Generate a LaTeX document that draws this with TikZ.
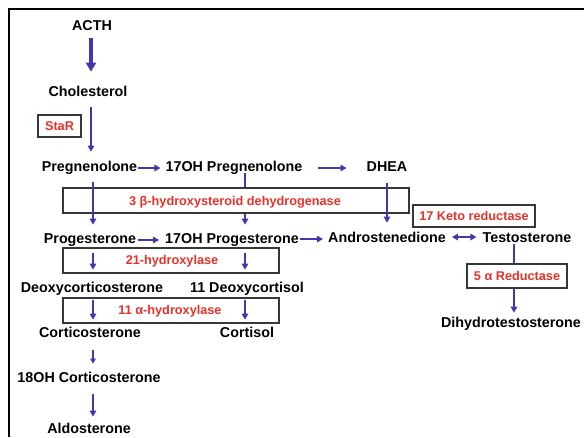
\documentclass[tikz,border=0pt]{standalone}
\usepackage{fontspec}
\setmainfont{Liberation Sans}
\usetikzlibrary{arrows.meta,calc}
\definecolor{arrblue}{RGB}{72,52,172}
\definecolor{enzred}{RGB}{232,50,40}
\definecolor{boxgray}{RGB}{55,55,55}
\tikzset{
  lbl/.style={font=\bfseries\fontsize{14.3}{16}\selectfont, inner sep=0pt, text height=10.3pt, text depth=0pt},
  enz/.style={font=\bfseries\fontsize{12.7}{14}\selectfont, text=enzred, inner sep=0pt},
  enzbox/.style={draw=boxgray, line width=1.1pt, inner sep=0pt},
  arr/.style={draw=arrblue, line width=1.9pt, -{Triangle[length=6pt,width=6.5pt]}},
  bigarr/.style={draw=arrblue, line width=3.4pt, -{Triangle[length=9pt,width=10pt]}},
  darr/.style={draw=arrblue, line width=1.9pt, {Triangle[length=6pt,width=6.5pt]}-{Triangle[length=6pt,width=6.5pt]}},
}
\begin{document}
\begin{tikzpicture}[x=1pt,y=-1pt]
\useasboundingbox (0,0) rectangle (584,437);
\fill[white] (0,0) rectangle (584,437);
% frame
\draw[line width=1.6pt] (9,437) -- (9,9) -- (584,9);

% labels
\node[lbl] (acth) at (92,25) {ACTH};
\node[lbl] (chol) at (88,91) {Cholesterol};
\node[lbl] (preg) at (89.5,166) {Pregnenolone};
\node[lbl] (ohpreg) at (234,166) {17OH Pregnenolone};
\node[lbl] (dhea) at (387,166) {DHEA};
\node[lbl] (prog) at (90,238) {Progesterone};
\node[lbl] (ohprog) at (232,238) {17OH Progesterone};
\node[lbl] (andro) at (387,237) {Androstenedione};
\node[lbl] (testo) at (527,237) {Testosterone};
\node[lbl] (doc) at (92,287) {Deoxycorticosterone};
\node[lbl] (odc) at (247,287) {11 Deoxycortisol};
\node[lbl] (cortico) at (90,332) {Corticosterone};
\node[lbl] (cortisol) at (247,332) {Cortisol};
\node[lbl] (ohcort) at (89,377) {18OH Corticosterone};
\node[lbl] (aldo) at (89,428) {Aldosterone};
\node[lbl] (dht) at (511,322) {Dihydrotestosterone};

% arrows hidden by boxes
\draw[arr] ($(ohpreg.south)+(11,2)$) -- ($(ohpreg.south |- ohprog.north)+(11,-8)$);
\draw[arr] ($(testo.south)+(-13,2)$) -- ($(testo.south |- dht.north)+(-13,-4)$);

% enzyme boxes
\node[enzbox, fill=white, minimum width=43pt, minimum height=22pt] (starbox) at (59.5,126) {};
\node[enz] (star) at (starbox.center) {StaR};
\node[enzbox, fill=white, minimum width=346pt, minimum height=25pt] (betabox) at (236,200.5) {};
\node[enz] (beta) at ($(betabox.center)+(-1,1.5)$) {3 β-hydroxysteroid dehydrogenase};
\node[enzbox, fill=white, minimum width=122pt, minimum height=22pt] (ketobox) at (474,216) {};
\node[enz] (keto) at (ketobox.center) {17 Keto reductase};
\node[enzbox, fill=white, minimum width=100pt, minimum height=24pt] (redbox) at (517,276) {};
\node[enz] (red5) at (redbox.center) {5 α Reductase};
\node[enzbox, minimum width=216pt, minimum height=25pt] (h21box) at (171,260.5) {};
\node[enz] (h21) at ($(h21box.center)+(1,0.5)$) {21-hydroxylase};
\node[enzbox, minimum width=216pt, minimum height=25pt] (h11box) at (171,310.5) {};
\node[enz] (h11) at ($(h11box.center)+(-1,1)$) {11 α-hydroxylase};

% vertical arrows
\draw[bigarr] ($(acth.south)+(-1,8)$) -- ($(acth.south |- chol.north)+(-1,-14)$);
\draw[arr] ($(chol.south)+(3,11)$) -- ($(chol.south |- preg.north)+(3,-9)$);
\draw[arr] ($(preg.south)+(3.5,11)$) -- ($(preg.south |- prog.north)+(3.5,-8)$);
\draw[arr] ($(dhea.south)+(0,12)$) -- ($(dhea.south |- andro.north)+(0,-9)$);
\draw[arr] ($(prog.south)+(3,10)$) -- ($(prog.south |- doc.north)+(3,-12)$);
\draw[arr] ($(ohprog.south)+(13,10)$) -- ($(ohprog.south |- odc.north)+(13,-12)$);
\draw[arr] ($(doc.south)+(1,8)$) -- ($(doc.south |- cortico.north)+(1,-7)$);
\draw[arr] ($(odc.south)+(-2,8)$) -- ($(odc.south |- cortisol.north)+(-2,-7)$);
\draw[arr, line width=1.6pt, -{Triangle[length=5pt,width=5.5pt]}] ($(cortico.south)+(3,13)$) -- ($(cortico.south |- ohcort.north)+(3,-8)$);
\draw[arr] ($(ohcort.south)+(4,12)$) -- ($(ohcort.south |- aldo.north)+(4,-6)$);

% horizontal arrows
\draw[arr] ($(preg.east)+(1,2)$) -- ($(preg.east -| ohpreg.west)+(-5,2)$);
\draw[arr] ($(ohpreg.east)+(15,2)$) -- ($(ohpreg.east -| dhea.west)+(-20,2)$);
\draw[arr] ($(prog.east)+(2,2)$) -- ($(prog.east -| ohprog.west)+(-6,2)$);
\draw[arr] ($(ohprog.east)+(1,1)$) -- ($(ohprog.east -| andro.west)+(-5,1)$);
\draw[darr] ($(andro.east)+(6,0)$) -- ($(andro.east -| testo.west)+(-6,0)$);
\end{tikzpicture}
\end{document}
